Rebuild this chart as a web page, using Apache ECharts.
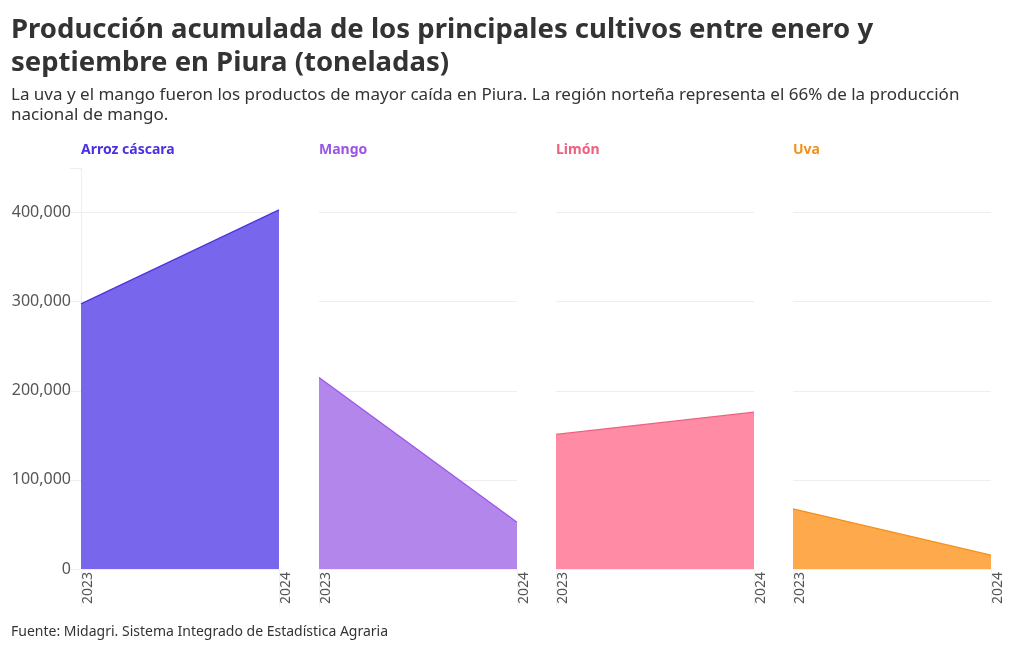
<!DOCTYPE html>
<html><head><meta charset="utf-8">
<script src="https://cdn.jsdelivr.net/npm/echarts@6/dist/echarts.min.js"></script>
<style>html,body{margin:0;padding:0;background:#fff}#c{width:1020px;height:650px}</style>
</head><body><div id="c"></div>
<script>
const years = ['2023', '2024'];
const crops = ['Arroz cáscara', 'Mango', 'Limón', 'Uva'];
const arroz = [297500, 403000];
const mango = [215000, 52500];
const limon = [151000, 176000];
const uva = [67500, 15500];
const yTicks = [0, 100000, 200000, 300000, 400000];

const seriesData = [arroz, mango, limon, uva];
const titleColors = ['#4a32e0', '#9a55e6', '#f0607f', '#f5901a'];
const fillColors = ['#7866ec', '#b286ea', '#ff8ca4', '#ffa94d'];
const lineColors = ['#4a32e0', '#9a55e6', '#f0607f', '#f5901a'];
const lefts = [81, 319, 556, 793];
const W = 198, TOP = 168, H = 401;
const FONT = 'Noto Sans';

const grids = [], xAxes = [], yAxes = [], series = [], titles = [];
titles.push({text: 'Producción acumulada de los principales cultivos entre enero y\nseptiembre en Piura (toneladas)', left: 11, top: 14, padding: 0,
  textStyle: {fontFamily: FONT, fontSize: 27.5, fontWeight: 'bold', color: '#333', lineHeight: 33}});
titles.push({text: 'La uva y el mango fueron los productos de mayor caída en Piura. La región norteña representa el 66% de la producción\nnacional de mango.', left: 11, top: 85, padding: 0,
  textStyle: {fontFamily: FONT, fontSize: 17, fontWeight: 'normal', color: '#333', lineHeight: 20}});
titles.push({text: 'Fuente: Midagri. Sistema Integrado de Estadística Agraria', left: 11, top: 625, padding: 0,
  textStyle: {fontFamily: FONT, fontSize: 14, fontWeight: 'normal', color: '#333'}});
crops.forEach((c, i) => {
  titles.push({text: c, left: lefts[i], top: 143, padding: 0, textStyle: {fontFamily: FONT, fontSize: 14, fontWeight: 'bold', color: titleColors[i]}});
  grids.push({left: lefts[i], top: TOP, width: W, height: H, containLabel: false});
  xAxes.push({type: 'category', gridIndex: i, data: years, boundaryGap: false,
    axisLine: {show: false}, axisTick: {show: true, length: 38, lineStyle: {color: '#f2f2f2'}},
    axisLabel: {rotate: 90, margin: 3, verticalAlign: 'top', fontFamily: FONT, fontSize: 14, color: '#555', interval: 0}});
  yAxes.push({type: 'value', gridIndex: i, min: 0, max: 450000, interval: 100000,
    axisLine: {show: i === 0, lineStyle: {color: '#eeeeee'}},
    axisTick: {show: i === 0, length: 11, lineStyle: {color: '#eeeeee'}},
    splitLine: {show: true, showMaxLine: false, lineStyle: {color: '#eeeeee'}},
    axisLabel: {show: i === 0, fontFamily: FONT, fontSize: 16, color: '#555', margin: 10,
      formatter: v => yTicks.includes(v) ? v.toLocaleString('en-US') : ''}});
  series.push({type: 'line', xAxisIndex: i, yAxisIndex: i, data: seriesData[i], symbol: 'none',
    lineStyle: {color: lineColors[i], width: 1.2}, areaStyle: {color: fillColors[i], opacity: 1}, silent: true, animation: false});
});

const chart = echarts.init(document.getElementById('c'), null, {renderer: 'canvas'});
chart.setOption({animation: false, title: titles, grid: grids, xAxis: xAxes, yAxis: yAxes, series: series});
</script></body></html>
